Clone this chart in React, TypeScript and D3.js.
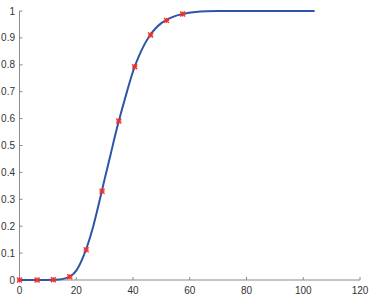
import React from "react";
import * as d3 from "d3";

const curveX = [0, 5, 10, 12, 14, 16, 18, 20, 22, 24, 26, 28, 30, 32, 34, 36, 38, 40, 42, 44, 46, 48, 50, 52, 55, 58, 62, 66, 70, 80, 90, 104];
const curveY = [0, 0, 0, 0.001, 0.002, 0.006, 0.014, 0.035, 0.075, 0.13, 0.2, 0.285, 0.375, 0.462, 0.55, 0.63, 0.705, 0.775, 0.83, 0.875, 0.91, 0.936, 0.955, 0.968, 0.982, 0.99, 0.996, 0.999, 1, 1, 1, 1];

const markerX = [0, 6.2, 11.9, 17.7, 23.5, 29.1, 35.0, 40.6, 46.2, 51.8, 57.5];
const markerY = [0, 0, 0.001, 0.012, 0.112, 0.33, 0.591, 0.793, 0.911, 0.965, 0.989];

const xTicks = [0, 20, 40, 60, 80, 100, 120];
const yTicks = [0, 0.1, 0.2, 0.3, 0.4, 0.5, 0.6, 0.7, 0.8, 0.9, 1];

export default function App() {
  const W = 369, H = 300;
  const x = d3.scaleLinear().domain([0, 120]).range([19.5, 360]);
  const y = d3.scaleLinear().domain([0, 1]).range([280, 11]);
  const line = d3
    .line<number>()
    .x((_, i) => x(curveX[i]))
    .y((d) => y(d))
    .curve(d3.curveMonotoneX);
  const axisColor = "#8a8a8a";
  const textColor = "#333";
  const font = "Liberation Sans, Arial, sans-serif";
  return (
    <svg width={W} height={H} style={{ position: "absolute", left: 0, top: 0, background: "#fff" }}>
      <g>
        <line x1={x(0)} x2={x(120)} y1={y(0)} y2={y(0)} stroke={axisColor} strokeWidth={1} />
        <line x1={x(0)} x2={x(0)} y1={y(0)} y2={y(1)} stroke={axisColor} strokeWidth={1} />
        {xTicks.map((t) => (
          <g key={"x" + t}>
            <line x1={x(t)} x2={x(t)} y1={y(0)} y2={y(0) - 3} stroke={axisColor} />
            <text x={x(t)} y={294} textAnchor="middle" fontSize={10} fontFamily={font} fill={textColor}>
              {t}
            </text>
          </g>
        ))}
        {yTicks.map((t) => (
          <g key={"y" + t}>
            <line x1={x(0)} x2={x(0) + 3} y1={y(t)} y2={y(t)} stroke={axisColor} />
            <text x={15} y={y(t)} dy="0.35em" textAnchor="end" fontSize={10} fontFamily={font} fill={textColor}>
              {String(t)}
            </text>
          </g>
        ))}
      </g>
      <path d={line(curveY) || ""} fill="none" stroke="#2d54a8" strokeWidth={2} />
      {markerX.map((mx, i) => {
        const cx = x(mx), cy = y(markerY[i]);
        const r = 2.5;
        return (
          <g key={"m" + i} stroke="#f0302a" strokeWidth={1.3}>
            <line x1={cx - r} x2={cx + r} y1={cy - r} y2={cy + r} />
            <line x1={cx - r} x2={cx + r} y1={cy + r} y2={cy - r} />
            <line x1={cx - r} x2={cx + r} y1={cy} y2={cy} />
            <line x1={cx} x2={cx} y1={cy - r} y2={cy + r} />
          </g>
        );
      })}
    </svg>
  );
}
